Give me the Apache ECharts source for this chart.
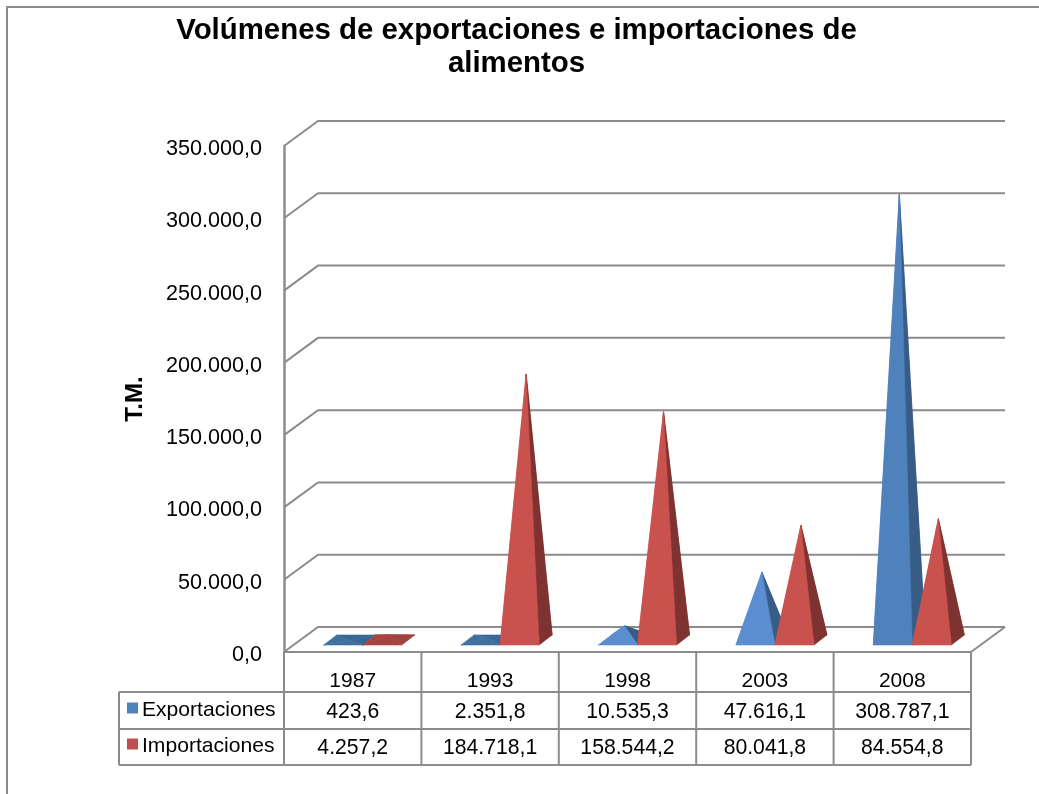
<!DOCTYPE html>
<html><head><meta charset="utf-8">
<style>html,body{margin:0;padding:0;background:#fff}#c{width:1039px;height:794px}</style>
<script src="https://cdn.jsdelivr.net/npm/echarts@6/dist/echarts.min.js"></script>
</head><body><div id="c"></div>
<script>
const categories = ['1987','1993','1998','2003','2008'];
const exportaciones = [423.6, 2351.8, 10535.3, 47616.1, 308787.1];
const importaciones = [4257.2, 184718.1, 158544.2, 80041.8, 84554.8];
const yTicks = [0,50000,100000,150000,200000,250000,300000,350000];
const seriesNames = ['Exportaciones','Importaciones'];
const titleLines = 'Volúmenes de exportaciones e importaciones de\nalimentos';

const FONT = '"Liberation Sans", Arial, sans-serif';
const GRAY = '#8c8c8c';
const left = 284, right = 971, top0 = 146, bottom0 = 652;
const depthX = 34, depthY = 25;

function fmt(v){
  const s = v.toFixed(1).split('.');
  return s[0].replace(/\B(?=(\d{3})+$)/g,'.') + ',' + s[1];
}
function poly(points, fill){
  return {type:'polygon', shape:{points}, style:{fill, stroke:fill, lineWidth:0.6}, silent:true};
}
function pyramid(side, cols){
  return function(params, api){
    const i = api.value(0), v = api.value(1);
    const c = api.coord([i, v]);
    const band = api.size([1,0])[0];
    const w = band*0.284;
    const x0 = c[0] + band*0.073 + (side===0 ? -w : 0);
    const x1 = x0 + w;
    const yBase = api.coord([i,0])[1] - 7;
    const dx = 13, dy = 10;
    const apex = [(x0+x1)/2 + dx/2, c[1] - 11];
    const low = v < 5000;
    const f = low ? cols.lowFront : (v < 60000 ? cols.midFront : cols.front);
    const s = low ? cols.lowSide : cols.side;
    const A=[x0,yBase],B=[x1,yBase],C=[x1+dx,yBase-dy],D=[x0+dx,yBase-dy];
    return {type:'group', children:[
      poly([D,C,apex], s), poly([A,D,apex], f), poly([B,C,apex], s), poly([A,B,apex], f)
    ]};
  };
}
const blue = {front:'#4F81BD', midFront:'#5A8ED0', side:'#375D86', lowFront:'#41709F', lowSide:'#3A6596'};
const red  = {front:'#C9524F', midFront:'#C9524F', side:'#7F3331', lowFront:'#A8423F', lowSide:'#A04340'};

function wallRender(params, api){
  const v = api.value(0);
  const yy = api.coord([0, v])[1];
  const xL = left, xR = right;
  const style = {stroke:GRAY, lineWidth:2, fill:null};
  const children = [{type:'polyline', shape:{points:[[xL,yy],[xL+depthX,yy-depthY],[xR+depthX,yy-depthY]]}, style}];
  if (v === 0) children.push({type:'polyline', shape:{points:[[xR,yy],[xR+depthX,yy-depthY]]}, style});
  return {type:'group', children};
}

const colW = (right-left)/categories.length;
const rowY = [692, 729, 765];
const tableStyle = {stroke:GRAY, lineWidth:2};
const line = (x1,y1,x2,y2)=>({type:'line', shape:{x1,y1,x2,y2}, style:tableStyle, silent:true, z:5});
const cell = (x,y,text)=>({type:'text', x, y, z:6, style:{text, fill:'#000', font:'21.2px '+FONT, textAlign:'center', textVerticalAlign:'middle'}});
const graphics = [
  {type:'polyline', shape:{points:[[7,794],[7,7],[1039,7]]}, style:{stroke:GRAY, lineWidth:2, fill:null}, silent:true},
  line(left,bottom0,right,bottom0),
  line(119,rowY[0],right,rowY[0]), line(119,rowY[1],right,rowY[1]), line(119,rowY[2],right,rowY[2]),
  line(119,rowY[0],119,rowY[2])
];
for (let i=0;i<=categories.length;i++){
  graphics.push(line(left+i*colW,bottom0,left+i*colW,rowY[2]));
}
categories.forEach((c,i)=>{
  const x = left+(i+0.5)*colW;
  graphics.push(cell(x,(rowY[0]+rowY[1])/2+1.5,fmt(exportaciones[i])));
  graphics.push(cell(x,(rowY[1]+rowY[2])/2+1.5,fmt(importaciones[i])));
});

const legendText = {fontFamily:FONT,fontSize:21.1,color:'#000',padding:[0,0,0,-1],
  rich:{a:{fontFamily:FONT,fontSize:21.1,color:'#000',padding:[5,0,0,0]}}};
const option = {
  animation:false,
  backgroundColor:'#fff',
  textStyle:{fontFamily:FONT},
  title:{text:titleLines, left:511.5, top:9, textAlign:'center',
    textStyle:{fontFamily:FONT,fontWeight:'bold',fontSize:29.4,lineHeight:33,color:'#000'}},
  grid:{left:left, top:top0, width:right-left, height:bottom0-top0, containLabel:false},
  legend:[
    {data:[seriesNames[0]], left:124, top:700, itemWidth:11, itemHeight:11, itemGap:4, icon:'rect', selectedMode:false, padding:[0,0,0,3], formatter:n=>'{a|'+n+'}', textStyle:legendText},
    {data:[seriesNames[1]], left:124, top:736, itemWidth:11, itemHeight:11, itemGap:4, icon:'rect', selectedMode:false, padding:[0,0,0,3], formatter:n=>'{a|'+n+'}', textStyle:legendText}
  ],
  xAxis:{type:'category', data:categories, axisLine:{show:false}, axisTick:{show:false}, splitLine:{show:false},
    axisLabel:{margin:19, fontSize:21, color:'#000', fontFamily:FONT, interval:0}},
  yAxis:{type:'value', min:0, max:350000, interval:50000,
    name:'T.M.', nameLocation:'middle', nameGap:137, nameRotate:90,
    nameTextStyle:{fontFamily:FONT,fontWeight:'bold',fontSize:24,color:'#000'},
    axisLine:{show:true,lineStyle:{color:GRAY,width:2.5}}, axisTick:{show:false}, splitLine:{show:false},
    axisLabel:{margin:22, color:'#000', formatter:v=>'{a|'+fmt(v)+'}',
      rich:{a:{fontSize:21.6, fontFamily:FONT, color:'#000', padding:[6,0,0,0]}}}},
  graphic:graphics,
  series:[
    {type:'custom', name:'wall', coordinateSystem:'cartesian2d', clip:false, silent:true, z:1,
      encode:{x:1,y:0}, data:yTicks.map(v=>[v,0]), renderItem:wallRender},
    {type:'custom', name:seriesNames[0], coordinateSystem:'cartesian2d', clip:false, z:2,
      itemStyle:{color:'#4F81BD'}, encode:{x:0,y:1},
      data:exportaciones.map((v,i)=>[i,v]), renderItem:pyramid(0,blue)},
    {type:'custom', name:seriesNames[1], coordinateSystem:'cartesian2d', clip:false, z:3,
      itemStyle:{color:'#C0504D'}, encode:{x:0,y:1},
      data:importaciones.map((v,i)=>[i,v]), renderItem:pyramid(1,red)}
  ]
};
echarts.init(document.getElementById('c'),null,{renderer:'canvas'}).setOption(option);
</script></body></html>
